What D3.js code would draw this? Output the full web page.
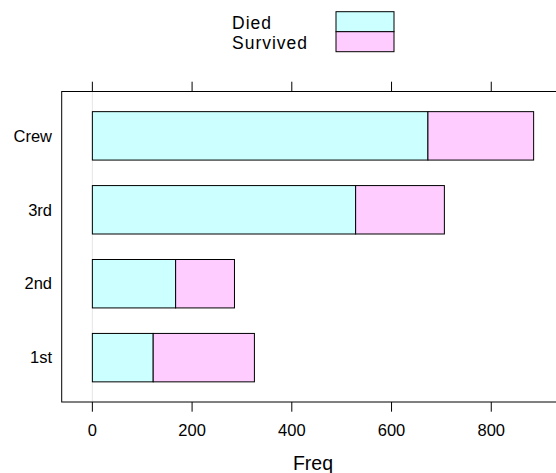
<!DOCTYPE html>
<html><head><meta charset="utf-8">
<script src="https://cdn.jsdelivr.net/npm/d3@7"></script>
<style>body{margin:0;background:#fff}svg{display:block;font-family:"Liberation Sans",Arial,sans-serif}</style>
</head><body>
<script>
const categories = ["1st", "2nd", "3rd", "Crew"];
const seriesNames = ["Died", "Survived"];
const died = [122, 167, 528, 673];
const survived = [203, 118, 178, 212];
const xTicks = [0, 200, 400, 600, 800];
const colors = ["#CCFFFF", "#FFCCFF"];

const W = 556, H = 473;
const svg = d3.select("body").append("svg").attr("width", W).attr("height", H);

const x = d3.scaleLinear().domain([-61.5, 946.5]).range([61.7, 564.3]);
const y = d3.scaleLinear().domain([0.4, 4.6]).range([402, 91.5]);
const step = Math.abs(y(1) - y(0));
const barH = step * 0.655;

// reference line at 0
svg.append("line").attr("x1", x(0)).attr("x2", x(0)).attr("y1", 91.5).attr("y2", 402)
  .attr("stroke", "#e6e6e6").attr("stroke-width", 1);

const rows = categories.map((c, i) => ({c, i: i + 1, vals: [died[i], survived[i]]}));
rows.forEach(r => {
  let acc = 0;
  r.vals.forEach((v, k) => {
    svg.append("rect")
      .attr("x", x(acc)).attr("width", x(acc + v) - x(acc))
      .attr("y", y(r.i) - barH / 2).attr("height", barH)
      .attr("fill", colors[k]).attr("stroke", "#000").attr("stroke-width", 1);
    acc += v;
  });
});

// panel
svg.append("rect").attr("x", 61.7).attr("y", 91.5).attr("width", 564.3 - 61.7).attr("height", 402 - 91.5)
  .attr("fill", "none").attr("stroke", "#000").attr("stroke-width", 1);

// ticks top & bottom
xTicks.forEach(t => {
  svg.append("line").attr("x1", x(t)).attr("x2", x(t)).attr("y1", 81.7).attr("y2", 91.5).attr("stroke", "#000");
  svg.append("line").attr("x1", x(t)).attr("x2", x(t)).attr("y1", 402).attr("y2", 411.7).attr("stroke", "#000");
  svg.append("text").attr("x", x(t)).attr("y", 435.5).attr("text-anchor", "middle")
    .attr("font-size", 16.5).text(t);
});

// y labels
rows.forEach(r => {
  svg.append("text").attr("x", 52).attr("y", y(r.i)).attr("dy", "0.35em").attr("text-anchor", "end")
    .attr("font-size", 16.5).text(r.c);
});

// x label
svg.append("text").attr("x", 313).attr("y", 470).attr("text-anchor", "middle").attr("font-size", 19.5).text("Freq");

// legend
seriesNames.forEach((s, k) => {
  svg.append("text").attr("x", 232).attr("y", 28.8 + k * 19.8).attr("font-size", 17.5)
    .attr("letter-spacing", 1).text(s);
  svg.append("rect").attr("x", 336).attr("y", 11.7 + k * 20).attr("width", 58).attr("height", 20)
    .attr("fill", colors[k]).attr("stroke", "#000").attr("stroke-width", 1);
});
</script>
</body></html>
